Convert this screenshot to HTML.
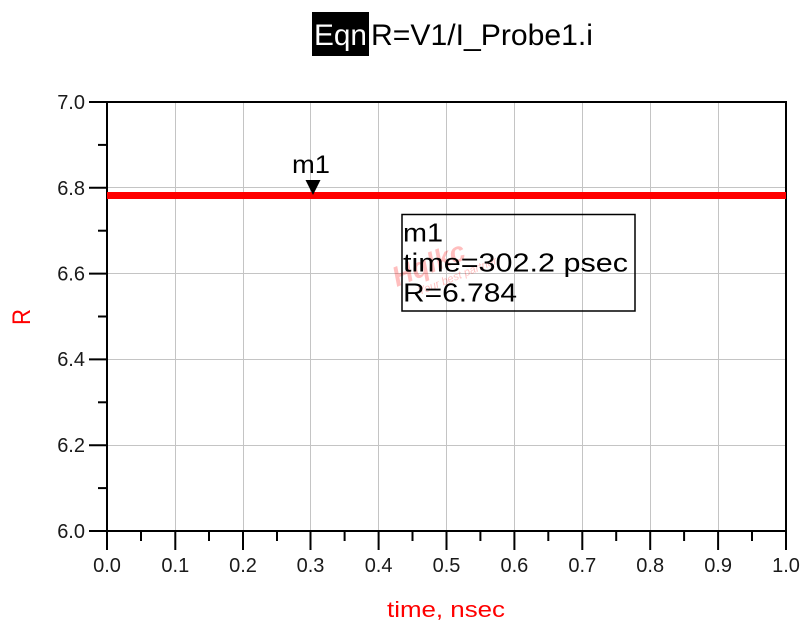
<!DOCTYPE html>
<html>
<head>
<meta charset="utf-8">
<style>
html,body{margin:0;padding:0;background:#fff;}
svg{display:block;}
text{font-family:"Liberation Sans", Arial, sans-serif;}
</style>
</head>
<body>
<svg width="806" height="627" viewBox="0 0 806 627" xmlns="http://www.w3.org/2000/svg">
  <rect x="0" y="0" width="806" height="627" fill="#fff"/>

  <!-- Title -->
  <rect x="312" y="12" width="57" height="44" fill="#000"/>
  <text x="314" y="45" font-size="30" fill="#fff" textLength="53" lengthAdjust="spacingAndGlyphs">Eqn</text>
  <text x="371" y="45" font-size="30" fill="#000" textLength="222" lengthAdjust="spacingAndGlyphs">R=V1/I_Probe1.i</text>

  <!-- Grid lines -->
  <g stroke="#c4c4c4" stroke-width="1">
    <line x1="175.5" y1="102" x2="175.5" y2="531"/>
    <line x1="243.5" y1="102" x2="243.5" y2="531"/>
    <line x1="310.5" y1="102" x2="310.5" y2="531"/>
    <line x1="378.5" y1="102" x2="378.5" y2="531"/>
    <line x1="446.5" y1="102" x2="446.5" y2="531"/>
    <line x1="514.5" y1="102" x2="514.5" y2="531"/>
    <line x1="582.5" y1="102" x2="582.5" y2="531"/>
    <line x1="650.5" y1="102" x2="650.5" y2="531"/>
    <line x1="718.5" y1="102" x2="718.5" y2="531"/>
    <line x1="107" y1="445.5" x2="786" y2="445.5"/>
    <line x1="107" y1="359.5" x2="786" y2="359.5"/>
    <line x1="107" y1="273.5" x2="786" y2="273.5"/>
    <line x1="107" y1="187.5" x2="786" y2="187.5"/>
  </g>

  <!-- Frame -->
  <rect x="107" y="102" width="679" height="429" fill="none" stroke="#000" stroke-width="2"/>

  <!-- Y ticks -->
  <g stroke="#000" stroke-width="2">
    <line x1="89" y1="102" x2="107" y2="102"/>
    <line x1="89" y1="187.8" x2="107" y2="187.8"/>
    <line x1="89" y1="273.6" x2="107" y2="273.6"/>
    <line x1="89" y1="359.4" x2="107" y2="359.4"/>
    <line x1="89" y1="445.2" x2="107" y2="445.2"/>
    <line x1="89" y1="531" x2="107" y2="531"/>
    <line x1="98" y1="144.9" x2="107" y2="144.9"/>
    <line x1="98" y1="230.7" x2="107" y2="230.7"/>
    <line x1="98" y1="316.5" x2="107" y2="316.5"/>
    <line x1="98" y1="402.3" x2="107" y2="402.3"/>
    <line x1="98" y1="488.1" x2="107" y2="488.1"/>
  </g>

  <!-- X ticks -->
  <g stroke="#000" stroke-width="2">
    <line x1="107" y1="531" x2="107" y2="550"/>
    <line x1="175.3" y1="531" x2="175.3" y2="550"/>
    <line x1="243" y1="531" x2="243" y2="550"/>
    <line x1="310.5" y1="531" x2="310.5" y2="550"/>
    <line x1="378.6" y1="531" x2="378.6" y2="550"/>
    <line x1="446.5" y1="531" x2="446.5" y2="550"/>
    <line x1="514.4" y1="531" x2="514.4" y2="550"/>
    <line x1="582.3" y1="531" x2="582.3" y2="550"/>
    <line x1="650.2" y1="531" x2="650.2" y2="550"/>
    <line x1="718.1" y1="531" x2="718.1" y2="550"/>
    <line x1="786" y1="531" x2="786" y2="550"/>
    <line x1="141" y1="531" x2="141" y2="541"/>
    <line x1="209" y1="531" x2="209" y2="541"/>
    <line x1="277" y1="531" x2="277" y2="541"/>
    <line x1="344.6" y1="531" x2="344.6" y2="541"/>
    <line x1="412.5" y1="531" x2="412.5" y2="541"/>
    <line x1="480.4" y1="531" x2="480.4" y2="541"/>
    <line x1="548.3" y1="531" x2="548.3" y2="541"/>
    <line x1="616.2" y1="531" x2="616.2" y2="541"/>
    <line x1="684.1" y1="531" x2="684.1" y2="541"/>
    <line x1="752" y1="531" x2="752" y2="541"/>
  </g>

  <!-- Y tick labels -->
  <g font-size="20" fill="#1a1a1a" text-anchor="end">
    <text x="85" y="109">7.0</text>
    <text x="85" y="195">6.8</text>
    <text x="85" y="280.5">6.6</text>
    <text x="85" y="366">6.4</text>
    <text x="85" y="452">6.2</text>
    <text x="85" y="538">6.0</text>
  </g>

  <!-- X tick labels -->
  <g font-size="20" fill="#1a1a1a" text-anchor="middle">
    <text x="107" y="572">0.0</text>
    <text x="175.3" y="572">0.1</text>
    <text x="243" y="572">0.2</text>
    <text x="310.5" y="572">0.3</text>
    <text x="378.6" y="572">0.4</text>
    <text x="446.5" y="572">0.5</text>
    <text x="514.4" y="572">0.6</text>
    <text x="582.3" y="572">0.7</text>
    <text x="650.2" y="572">0.8</text>
    <text x="718.1" y="572">0.9</text>
    <text x="786" y="572">1.0</text>
  </g>

  <!-- Axis labels -->
  <text x="387" y="617" font-size="22" fill="#ff0000" textLength="118" lengthAdjust="spacingAndGlyphs">time, nsec</text>
  <text transform="translate(30,325) rotate(-90)" x="0" y="0" font-size="25" fill="#ff0000" textLength="16" lengthAdjust="spacingAndGlyphs">R</text>

  <!-- Data line -->
  <rect x="107" y="192" width="679" height="7" fill="#ff0000"/>

  <!-- Marker -->
  <text x="292" y="173" font-size="25" fill="#000" textLength="38" lengthAdjust="spacingAndGlyphs">m1</text>
  <polygon points="305.5,180 320.5,180 313,195" fill="#000"/>

  <!-- Watermark -->
  <g transform="translate(402,300) rotate(-22)" fill="#ff0000" opacity="0.25">
    <text x="0" y="-14" font-size="28" font-weight="bold" font-style="italic">Hqlkc</text>
    <text x="18" y="2" font-size="11" font-style="italic">Your best partner</text>
  </g>

  <!-- Marker readout box -->
  <rect x="402" y="214.5" width="233" height="96.5" fill="none" stroke="#000" stroke-width="1.5"/>
  <text x="403" y="241.5" font-size="26" fill="#000" textLength="40" lengthAdjust="spacingAndGlyphs">m1</text>
  <text x="403" y="271.5" font-size="26" fill="#000" textLength="225" lengthAdjust="spacingAndGlyphs">time=302.2 psec</text>
  <text x="403" y="301.5" font-size="26" fill="#000" textLength="114" lengthAdjust="spacingAndGlyphs">R=6.784</text>
</svg>
</body>
</html>
